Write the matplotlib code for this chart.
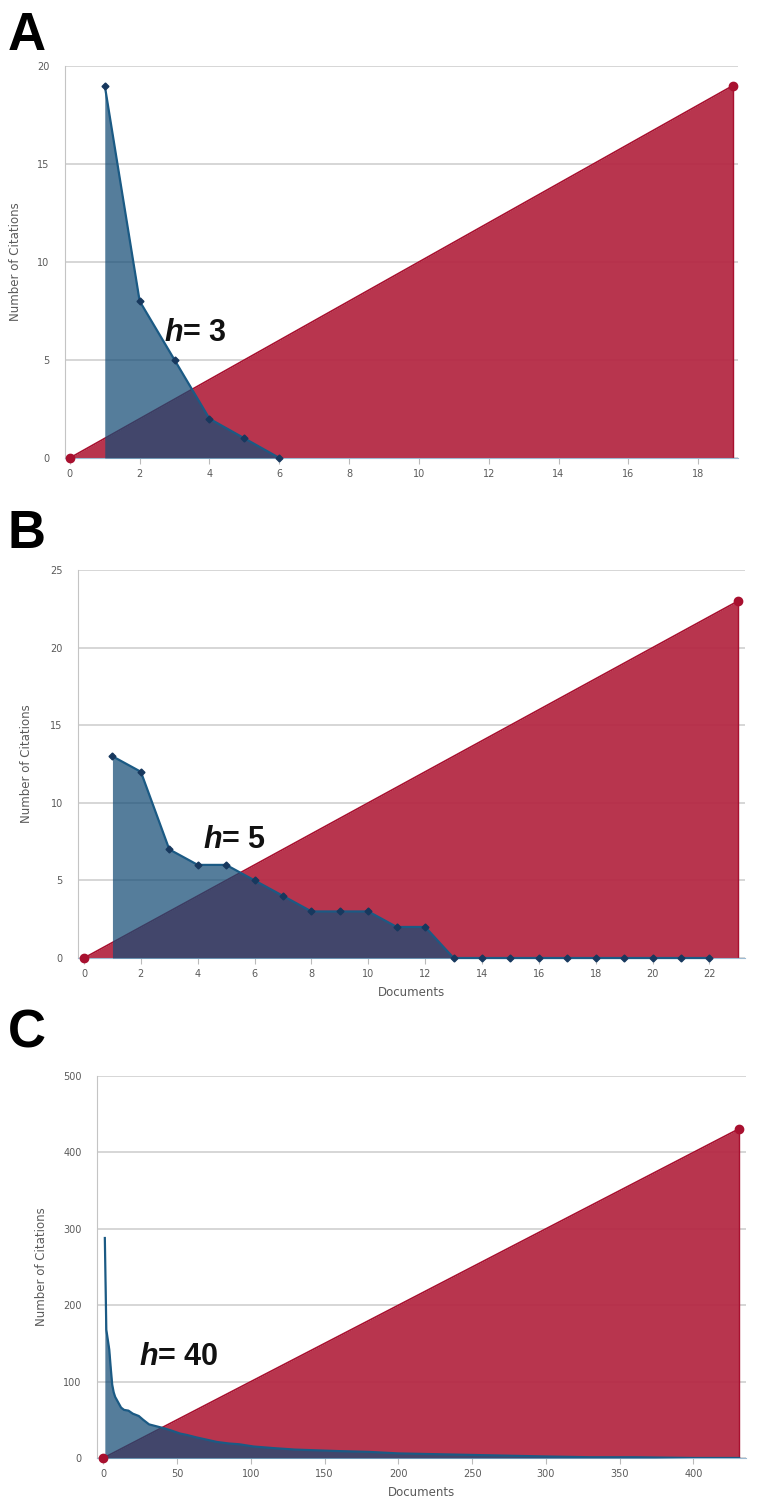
#!/usr/bin/env python
import numpy as np
import matplotlib
matplotlib.use('Agg')
import matplotlib.pyplot as plt

plt.rcParams['mathtext.fontset'] = 'custom'
plt.rcParams['mathtext.it'] = 'Liberation Sans:italic:bold'
plt.rcParams['mathtext.rm'] = 'Liberation Sans:bold'

# panel A
a_docs = [1, 2, 3, 4, 5, 6]
a_cites = [19, 8, 5, 2, 1, 0]
a_diag = [0, 19]
a_h = '$h$= 3'

# panel B
b_docs = list(range(1, 23))
b_cites = [13, 12, 7, 6, 6, 5, 4, 3, 3, 3, 2, 2, 0, 0, 0, 0, 0, 0, 0, 0, 0, 0]
b_diag = [0, 23]
b_h = '$h$= 5'

# panel C
c_docs = [1, 2, 3, 4, 5, 6, 7, 8, 10, 12, 14, 17, 20, 24, 27, 31, 35, 41, 46, 52,
          57, 63, 70, 77, 85, 92, 102, 115, 130, 145, 160, 180, 200, 225, 250,
          275, 300, 330, 360, 400, 431]
c_cites = [288, 168, 155, 142, 118, 96, 86, 80, 73, 66, 63, 62, 58, 55, 50, 44, 42,
           39, 36, 32, 30, 27, 24, 21, 19, 18, 15, 13, 11, 10, 9, 8, 6, 5, 4, 3, 2,
           1, 1, 0, 0]
c_diag = [0, 431]
c_h = '$h$= 40'

RED = '#B42843'
RED_EDGE = '#A8102F'
BLUE = '#164D76'
BLUE_LINE = '#1B5A84'
MARK = '#17385E'
GRID = '#CFCFCF'
TXT = '#5A5A5A'

fig = plt.figure(figsize=(7.78, 14.99), dpi=100)

H = 1499.0
panels = [
    dict(pos=[0.0835, 0.6945, 0.8650, 0.2615], docs=a_docs, cites=a_cites, diag=a_diag,
         xlim=(-0.14, 19.14), ylim=(0, 20), xt=np.arange(0, 19, 2), yt=np.arange(0, 21, 5),
         h=a_h, hxy=(2.7, 6.4), marks=True, xlabel=None, letter='A', base=50, ylx=-0.064),
    dict(pos=[0.1003, 0.3609, 0.8573, 0.2588], docs=b_docs, cites=b_cites, diag=b_diag,
         xlim=(-0.21, 23.25), ylim=(0, 25), xt=np.arange(0, 23, 2), yt=np.arange(0, 26, 5),
         h=b_h, hxy=(4.2, 7.6), marks=True, xlabel='Documents', letter='B', base=548, ylx=-0.067),
    dict(pos=[0.1247, 0.02735, 0.8342, 0.2548], docs=c_docs, cites=c_cites, diag=c_diag,
         xlim=(-4.3, 435.7), ylim=(0, 500), xt=np.arange(0, 401, 50), yt=np.arange(0, 501, 100),
         h=c_h, hxy=(24.5, 132), marks=False, xlabel='Documents', letter='C', base=1047, ylx=-0.0755),
]

for p in panels:
    ax = fig.add_axes(p['pos'])
    ax.set_xlim(*p['xlim'])
    ax.set_ylim(*p['ylim'])
    ax.set_xticks(p['xt'])
    ax.set_yticks(p['yt'])
    ax.yaxis.grid(True, color=GRID, linewidth=1.2, zorder=0)
    ax.set_axisbelow(True)

    # red diagonal
    d = p['diag']
    ax.fill_between(d, d, 0, color=RED, alpha=0.94, linewidth=0, zorder=1)
    ax.plot(d, d, color=RED_EDGE, linewidth=1.2, zorder=2)
    ax.plot([d[1], d[1]], [0, d[1]], color=RED_EDGE, linewidth=1.0, zorder=2)
    ax.plot(d, d, linestyle='none', marker='o', markersize=6, color=RED_EDGE,
            zorder=5, clip_on=False)

    # blue citations curve
    ax.fill_between(p['docs'], p['cites'], 0, color=BLUE, alpha=0.73, linewidth=0, zorder=3)
    if p['marks']:
        ax.plot(p['docs'], p['cites'], color=BLUE_LINE, linewidth=1.6, zorder=4,
                marker='D', markersize=3.5, markerfacecolor=MARK, markeredgecolor=MARK,
                clip_on=False)
    else:
        ax.plot(p['docs'], p['cites'], color=BLUE_LINE, linewidth=1.6, zorder=4)

    ax.text(p['hxy'][0], p['hxy'][1], p['h'], fontsize=22, fontweight='bold',
            family='Liberation Sans', ha='left', va='center', color='#111111', zorder=6)

    for s in ['top', 'right']:
        ax.spines[s].set_visible(False)
    ax.spines['left'].set_color('#C4C4C4')
    ax.spines['bottom'].set_color('#9DBBD3')
    ax.tick_params(axis='y', length=0, pad=11, labelsize=7, labelcolor=TXT)
    ax.tick_params(axis='x', length=4, color='#BBBBBB', pad=4, labelsize=7, labelcolor=TXT)

    ax.set_ylabel('Number of Citations', fontsize=8.5, color=TXT)
    ax.yaxis.set_label_coords(p['ylx'], 0.5)
    if p['xlabel']:
        ax.set_xlabel(p['xlabel'], fontsize=8.5, color=TXT, labelpad=5)

    fig.text(0.01, 1 - p['base'] / H, p['letter'], fontsize=38, fontweight='bold',
             family='Liberation Sans', va='baseline', ha='left')

fig.savefig('out.png', dpi=100)
plt.close(fig)
